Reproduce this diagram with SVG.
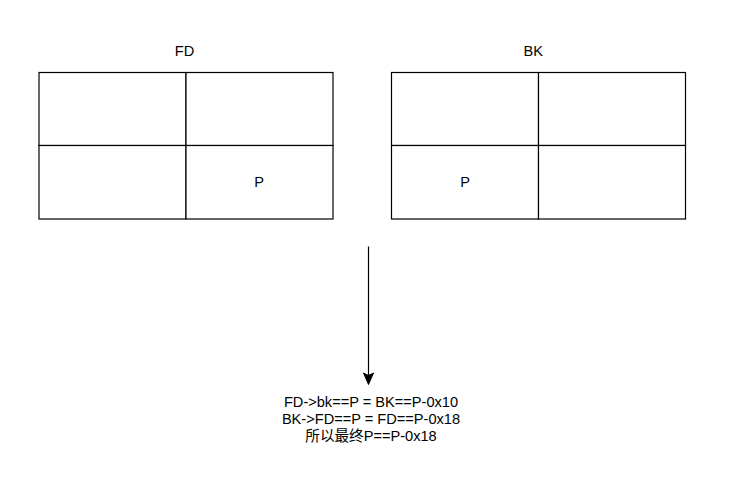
<svg xmlns="http://www.w3.org/2000/svg" width="756" height="477" viewBox="0 0 756 477">
<style>
.cell{fill:#fff;stroke:#000;stroke-width:1.2}
.t{font-family:"Liberation Sans",Arial,sans-serif;font-size:14.6px;fill:#000;text-anchor:middle}
.conn{stroke:#000;stroke-width:1.2;fill:none}
</style>
<rect width="756" height="477" fill="#fff"/>
<g id="fd-block">
<text class="t" x="184.5" y="55.5">FD</text>
<rect class="cell" x="39" y="72.5" width="147" height="73"/>
<rect class="cell" x="186" y="72.5" width="147" height="73"/>
<rect class="cell" x="39" y="145.5" width="147" height="73.5"/>
<rect class="cell" x="186" y="145.5" width="147" height="73.5"/>
<text class="t" x="259" y="186.7">P</text>
</g>
<g id="bk-block">
<text class="t" x="533.3" y="55.5">BK</text>
<rect class="cell" x="391.5" y="72.5" width="147" height="73"/>
<rect class="cell" x="538.5" y="72.5" width="147" height="73"/>
<rect class="cell" x="391.5" y="145.5" width="147" height="73.5"/>
<rect class="cell" x="538.5" y="145.5" width="147" height="73.5"/>
<text class="t" x="465" y="186.7">P</text>
</g>
<g id="connectors">
<line class="conn" x1="368.5" y1="246.5" x2="368.5" y2="376"/>
<path d="M363.5,373 L368.5,384.5 L373.5,373 L368.5,375.5 Z" fill="#000" stroke="#000" stroke-width="1"/>
</g>
<g id="note">
<text class="t" x="371" y="407.3">FD-&gt;bk==P = BK==P-0x10</text>
<text class="t" x="371" y="424.3">BK-&gt;FD==P = FD==P-0x18</text>
<text class="t" x="371" y="441.3" style="font-family:'Liberation Sans','Noto Sans CJK SC',sans-serif">所以最终P==P-0x18</text>
</g>
</svg>
